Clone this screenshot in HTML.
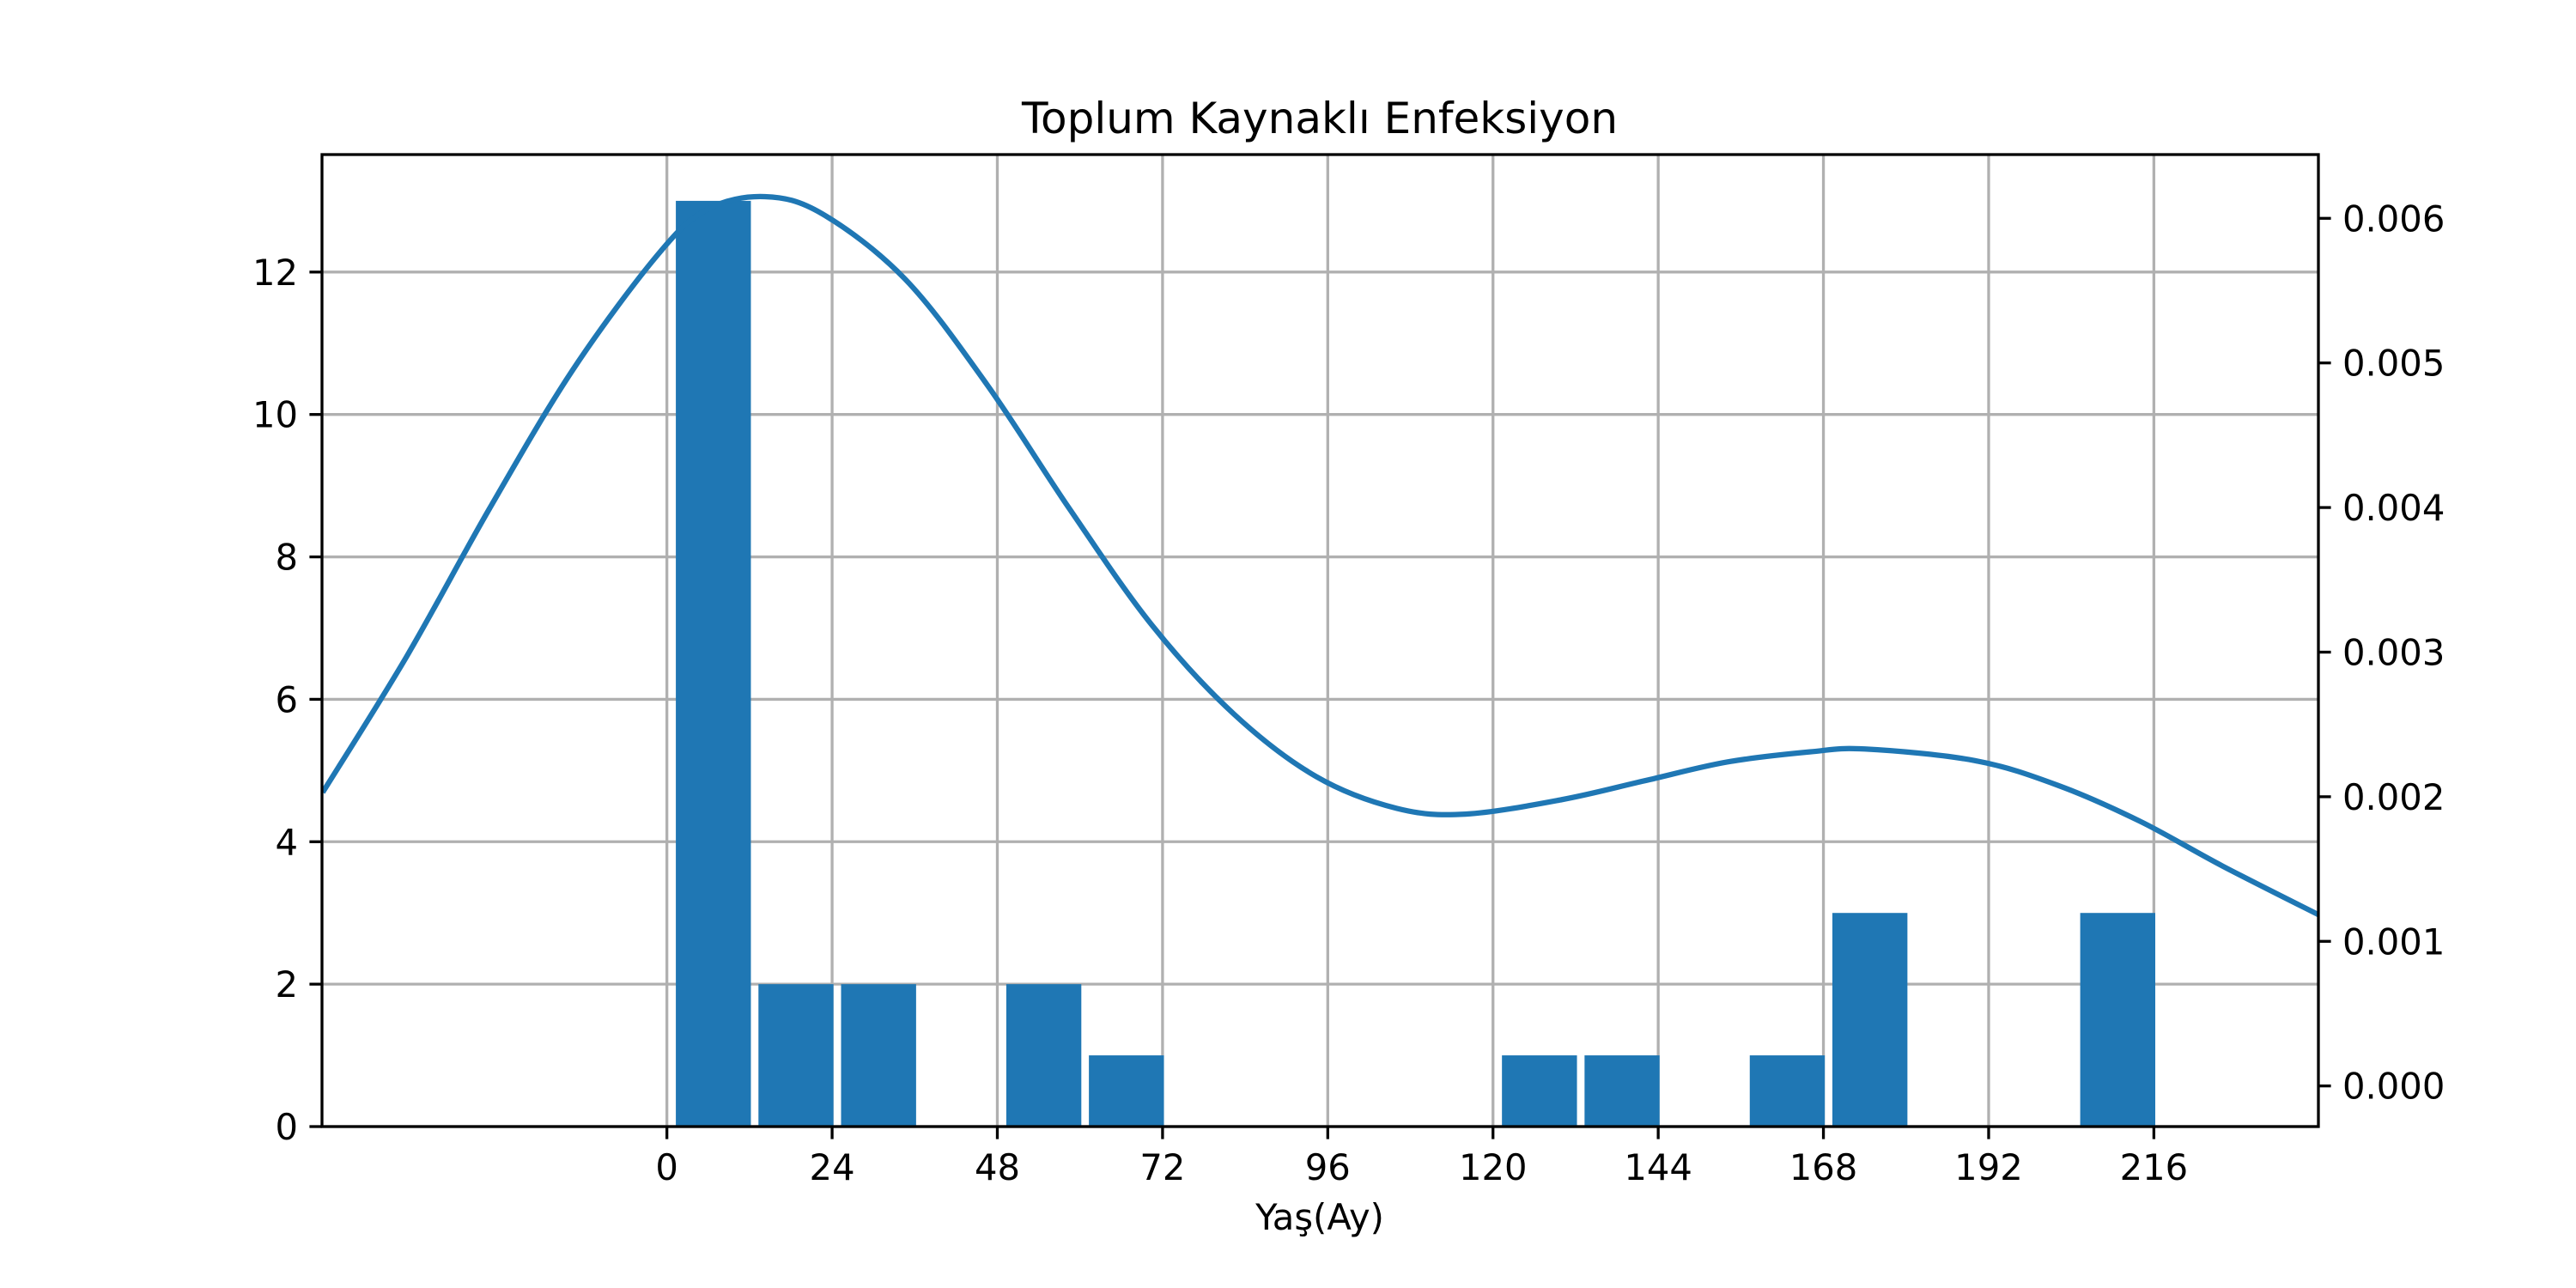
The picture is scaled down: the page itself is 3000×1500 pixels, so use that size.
<!DOCTYPE html>
<html><head><meta charset="utf-8"><style>body{margin:0;background:#fff}svg{display:block;font-family:"DejaVu Sans","Liberation Sans",sans-serif}</style></head>
<body>
<svg id="chart" width="3000" height="1500" viewBox="0 0 3000 1500" xmlns="http://www.w3.org/2000/svg">
<rect width="3000" height="1500" fill="#fff"/>
<g id="grid"></g>
<g id="bars"></g>
<g id="curve"></g>
<g id="axes"></g>
<text x="1537" y="155" font-size="50" text-anchor="middle">Toplum Kaynaklı Enfeksiyon</text>
<text x="1537" y="1432" font-size="41.7" text-anchor="middle">Yaş(Ay)</text>
</svg>
<script>
const binStarts = [0,12,24,36,48,60,72,84,96,108,120,132,144,156,168,180,192,204];
const counts = [13,2,2,0,2,1,0,0,0,0,1,1,0,1,3,0,0,3];
const xTicks = [0,24,48,72,96,120,144,168,192,216];
const yTicks = [0,2,4,6,8,10,12];
const y2Ticks = [0,0.001,0.002,0.003,0.004,0.005,0.006];
const kdeX = [-50,-37.8,-25.8,-13.7,-1.3,5.8,14.2,22.6,34.6,46.5,58.5,70.4,82.4,94.3,106,116,130,142,154,166,174,190,202,214,226,240.5];
const kdeY = [0.00203,0.00297,0.00399,0.00495,0.00575,0.00606,0.00615,0.00603,0.00558,0.00485,0.00399,0.00319,0.00257,0.00214,0.00192,0.00188,0.00198,0.00211,0.00224,0.00231,0.00233,0.00225,0.00208,0.00183,0.00152,0.00117];

const L=375,R=2700,T=180,B=1312;
const xmin=-50.1,xmax=239.9,ymax=13.65,y2min=-0.000281,y2max=0.006441;
const X=v=>L+(v-xmin)/(xmax-xmin)*(R-L);
const Y=v=>B-v/ymax*(B-T);
const Y2=v=>B-(v-y2min)/(y2max-y2min)*(B-T);
const NS="http://www.w3.org/2000/svg";
function mk(tag,attrs,parent){const e=document.createElementNS(NS,tag);for(const k in attrs)e.setAttribute(k,attrs[k]);document.getElementById(parent).appendChild(e);return e;}

xTicks.forEach(t=>{const e=mk('line',{x1:X(t),x2:X(t),y1:T,y2:B,stroke:'#b0b0b0','stroke-width':3.3},'grid');

});
yTicks.forEach(t=>{const e=mk('line',{x1:L,x2:R,y1:Y(t),y2:Y(t),stroke:'#b0b0b0','stroke-width':3.3},'grid');

});

binStarts.forEach((s,i)=>{if(!counts[i])return;const x0=X(s+1.3),x1=X(s+12.2);
const e=mk('rect',{x:x0,y:Y(counts[i]),width:x1-x0,height:B-Y(counts[i]),fill:'#1f77b4'},'bars');

});

const pts=kdeX.map((x,i)=>[X(x),Y2(kdeY[i])]);
let d='M'+pts[0][0]+','+pts[0][1];
for(let i=0;i<pts.length-1;i++){const p0=pts[i-1]||pts[i],p1=pts[i],p2=pts[i+1],p3=pts[i+2]||p2;
d+=' C'+(p1[0]+(p2[0]-p0[0])/6)+','+(p1[1]+(p2[1]-p0[1])/6)+' '+(p2[0]-(p3[0]-p1[0])/6)+','+(p2[1]-(p3[1]-p1[1])/6)+' '+p2[0]+','+p2[1];}
const cp=mk('clipPath',{id:'clip'},'curve');
const cr=document.createElementNS(NS,'rect');cr.setAttribute('x',L);cr.setAttribute('y',T);cr.setAttribute('width',R-L);cr.setAttribute('height',B-T);cp.appendChild(cr);
const c=mk('path',{d:d,fill:'none',stroke:'#1f77b4','stroke-width':6.25,'clip-path':'url(#clip)'},'curve');



const sp=mk('rect',{x:L,y:T,width:R-L,height:B-T,fill:'none',stroke:'#000','stroke-width':3.3},'axes');


xTicks.forEach(t=>{mk('line',{x1:X(t),x2:X(t),y1:B,y2:B+14.6,stroke:'#000','stroke-width':3.3},'axes');
const e=mk('text',{x:X(t),y:B+62,'font-size':41.7,'text-anchor':'middle'},'axes');e.textContent=t;

});
yTicks.forEach(t=>{mk('line',{x1:L,x2:L-14.6,y1:Y(t),y2:Y(t),stroke:'#000','stroke-width':3.3},'axes');
const e=mk('text',{x:L-28,y:Y(t)+15,'font-size':41.7,'text-anchor':'end'},'axes');e.textContent=t;

});
y2Ticks.forEach(t=>{mk('line',{x1:R,x2:R+14.6,y1:Y2(t),y2:Y2(t),stroke:'#000','stroke-width':3.3},'axes');
const e=mk('text',{x:R+28,y:Y2(t)+15,'font-size':41.7,'text-anchor':'start'},'axes');e.textContent=t.toFixed(3);

});
</script>
</body></html>
